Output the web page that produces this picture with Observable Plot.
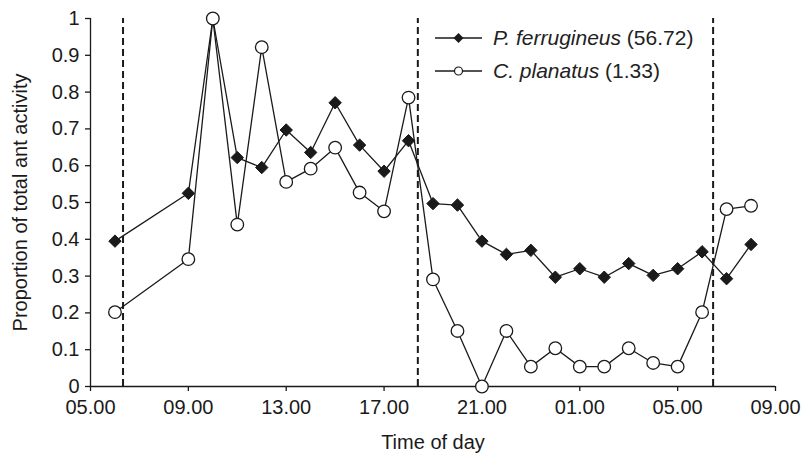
<!DOCTYPE html>
<html>
<head>
<meta charset="utf-8">
<script src="https://cdn.jsdelivr.net/npm/d3@7"></script>
<script src="https://cdn.jsdelivr.net/npm/@observablehq/plot@0.6"></script>
<style>
  body { margin: 0; background: white; }
  #wrap { position: relative; width: 801px; height: 453px; font-family: "Liberation Sans", Arial, sans-serif; color: #222; }
  #legend { position: absolute; left: 435px; top: 21px; font-size: 21px; line-height: 33px; }
  #legend .row { display: flex; align-items: center; height: 33px; }
  #legend svg { margin-right: 11px; }
</style>
</head>
<body>
<div id="wrap"><div id="legend"></div></div>
<script>
// Hours since midnight of day 1 (24+ = next day)
const hours = [6, 9, 10, 11, 12, 13, 14, 15, 16, 17, 18, 19, 20, 21, 22, 23, 24, 25, 26, 27, 28, 29, 30, 31, 32];
const ferrugineus = [0.395, 0.525, 1.0, 0.622, 0.595, 0.697, 0.636, 0.771, 0.656, 0.585, 0.668, 0.497, 0.493, 0.395, 0.359, 0.370, 0.297, 0.320, 0.297, 0.334, 0.302, 0.320, 0.366, 0.293, 0.386];
const planatus = [0.202, 0.346, 1.0, 0.440, 0.922, 0.556, 0.592, 0.649, 0.527, 0.476, 0.785, 0.291, 0.151, 0.0, 0.151, 0.054, 0.104, 0.054, 0.054, 0.104, 0.064, 0.054, 0.202, 0.482, 0.491];
const seriesNames = ["P. ferrugineus", "C. planatus"];
const seriesStats = ["(56.72)", "(1.33)"];
// sunrise / sunset / sunrise (dashed lines)
const sunTimes = [6.33, 18.38, 30.45];
const xTicks = [5, 9, 13, 17, 21, 25, 29, 33];
const xTickLabels = ["05.00", "09.00", "13.00", "17.00", "21.00", "01.00", "05.00", "09.00"];
const yTicks = [0, 0.1, 0.2, 0.3, 0.4, 0.5, 0.6, 0.7, 0.8, 0.9, 1];
const yTickLabels = ["0", "0.1", "0.2", "0.3", "0.4", "0.5", "0.6", "0.7", "0.8", "0.9", "1"];

const dataF = hours.map((h, i) => ({h, v: ferrugineus[i]}));
const dataP = hours.map((h, i) => ({h, v: planatus[i]}));

const ink = "#1a1a1a";
const chart = Plot.plot({
  width: 801,
  height: 453,
  marginLeft: 90,
  marginRight: 26,
  marginTop: 18,
  marginBottom: 67,
  x: {domain: [5, 33]},
  y: {domain: [0, 1]},
  style: {fontFamily: "'Liberation Sans', Arial, sans-serif", fontSize: "20px", color: ink, background: "white"},
  marks: [
    Plot.ruleX(sunTimes, {x: d => d, y1: 0, y2: 1, stroke: ink, strokeWidth: 2, strokeDasharray: "7,4"}),
    Plot.axisX({ticks: xTicks, tickFormat: d => xTickLabels[xTicks.indexOf(d)], tickSize: 5, tickPadding: 8, fontSize: 20,
      stroke: ink, strokeWidth: 1.3, label: "Time of day", labelAnchor: "center", labelOffset: 62, labelArrow: "none"}),
    Plot.axisY({ticks: yTicks, tickFormat: d => yTickLabels[yTicks.indexOf(d)], tickSize: 5, tickPadding: 6, fontSize: 20,
      stroke: ink, strokeWidth: 1.3, label: "Proportion of total ant activity", labelAnchor: "center", labelOffset: 78, labelArrow: "none"}),
    Plot.ruleY([0], {stroke: ink, strokeWidth: 1.3}),
    Plot.ruleX([5], {stroke: ink, strokeWidth: 1.3}),
    Plot.line(dataF, {x: "h", y: "v", stroke: ink, strokeWidth: 1.3}),
    Plot.dot(dataF, {x: "h", y: "v", symbol: "diamond2", r: 5.6, fill: ink, stroke: ink, strokeWidth: 1}),
    Plot.line(dataP, {x: "h", y: "v", stroke: ink, strokeWidth: 1.3}),
    Plot.dot(dataP, {x: "h", y: "v", symbol: "circle", r: 6.3, fill: "white", stroke: ink, strokeWidth: 1.3})
  ]
});
document.getElementById("wrap").prepend(chart);

// Legend
const legend = document.getElementById("legend");
const markerSvg = [
  `<polygon points="23.5,5 28.5,10 23.5,15 18.5,10" fill="${ink}"/>`,
  `<circle cx="23.5" cy="10" r="4" fill="white" stroke="${ink}" stroke-width="1.2"/>`
];
seriesNames.forEach((name, i) => {
  const row = document.createElement("div");
  row.className = "row";
  row.innerHTML = `<svg width="47" height="20"><line x1="0" y1="10" x2="47" y2="10" stroke="${ink}" stroke-width="1.3"/>${markerSvg[i]}</svg><span><i>${name}</i> ${seriesStats[i]}</span>`;
  legend.appendChild(row);
});
</script>
</body>
</html>
